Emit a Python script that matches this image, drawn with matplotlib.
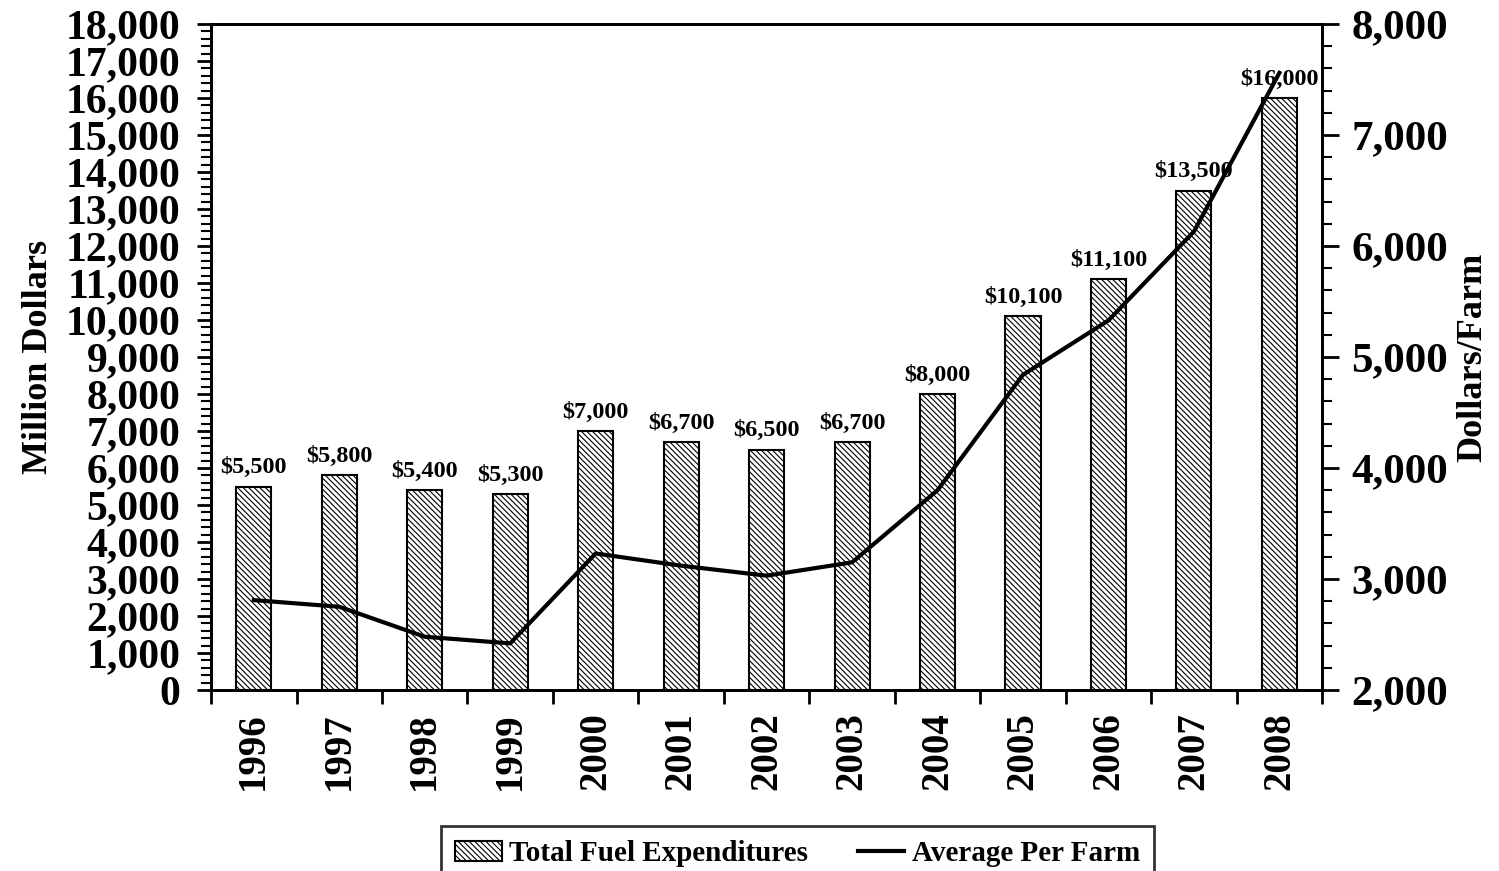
import numpy as np
import matplotlib.pyplot as plt
from matplotlib.ticker import MultipleLocator, FuncFormatter, FixedLocator

years = ['1996', '1997', '1998', '1999', '2000', '2001', '2002', '2003', '2004', '2005', '2006', '2007', '2008']
total_fuel = [5500, 5800, 5400, 5300, 7000, 6700, 6500, 6700, 8000, 10100, 11100, 13500, 16000]
per_farm = [2810, 2750, 2480, 2420, 3230, 3120, 3030, 3150, 3800, 4840, 5330, 6130, 7560]

plt.rcParams['font.family'] = 'Liberation Serif'
plt.rcParams['font.weight'] = 'bold'
plt.rcParams['hatch.linewidth'] = 0.8

fig = plt.figure(figsize=(14.99, 8.71), dpi=100)
ax = fig.add_axes([0.1408, 0.2078, 0.7412, 0.7646])
x = np.arange(len(years))

bars = ax.bar(x, total_fuel, width=0.41, color='white', edgecolor='black',
              linewidth=1.5, hatch='\\\\\\\\\\\\', label='Total Fuel Expenditures', zorder=2)
for xi, v in zip(x, total_fuel):
    ax.annotate('${:,}'.format(v), (xi, v), xytext=(0, 6), textcoords='offset points',
                ha='center', va='bottom', fontsize=17.5, fontweight='bold')

ax.set_xlim(-0.5, len(years) - 0.5)
ax.set_ylim(0, 18000)
ax.yaxis.set_major_locator(MultipleLocator(1000))
ax.yaxis.set_minor_locator(MultipleLocator(200))
ax.yaxis.set_major_formatter(FuncFormatter(lambda v, p: '{:,.0f}'.format(v)))
ax.tick_params(axis='y', which='major', length=10, width=2, labelsize=30, pad=12)
ax.tick_params(axis='y', which='minor', length=7, width=1.5)
ax.set_ylabel('Million Dollars', fontsize=26, fontweight='bold', labelpad=8)

ax.xaxis.set_major_locator(FixedLocator(np.arange(-0.5, len(years), 1.0)))
ax.xaxis.set_major_formatter(FuncFormatter(lambda v, p: ''))
ax.xaxis.set_minor_locator(FixedLocator(x))
ax.set_xticks(x, years, minor=True)
ax.tick_params(axis='x', which='major', length=10, width=2)
ax.tick_params(axis='x', which='minor', length=0, labelsize=28, rotation=90, pad=16)

for s in ax.spines.values():
    s.set_linewidth(2)

ax2 = ax.twinx()
line, = ax2.plot(x, per_farm, color='black', linewidth=3, label='Average Per Farm')
ax2.set_ylim(2000, 8000)
ax2.yaxis.set_major_locator(MultipleLocator(1000))
ax2.yaxis.set_minor_locator(MultipleLocator(200))
ax2.yaxis.set_major_formatter(FuncFormatter(lambda v, p: '{:,.0f}'.format(v)))
ax2.tick_params(axis='y', which='major', length=12, width=2, labelsize=31, pad=9)
ax2.tick_params(axis='y', which='minor', length=7, width=1.5)
ax2.set_ylabel('Dollars/Farm', fontsize=26, fontweight='bold', labelpad=6)
for s in ax2.spines.values():
    s.set_linewidth(2)

leg = fig.legend([bars, line], ['Total Fuel Expenditures', 'Average Per Farm'],
                 loc='upper center', bbox_to_anchor=(0.532, 0.052), borderaxespad=0,
                 ncol=2, fontsize=21, frameon=True, fancybox=False, edgecolor='black',
                 handlelength=1.6, columnspacing=1.7, borderpad=0.5, handletextpad=0.25)
leg.get_frame().set_linewidth(2)

fig.savefig('out.png', dpi=100)
